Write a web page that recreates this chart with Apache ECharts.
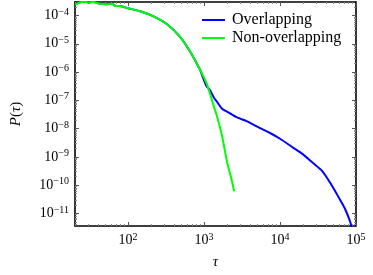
<!DOCTYPE html>
<html>
<head>
<meta charset="utf-8">
<script src="https://cdn.jsdelivr.net/npm/echarts@6/dist/echarts.min.js"></script>
<style>html,body{margin:0;padding:0;background:#fff}#c{width:373px;height:275px}</style>
</head>
<body>
<div id="c"></div>
<script>
// ---- data (tau, P(tau)) ----
const overlapTau = [20, 23.3, 25.6, 29.8, 34.6, 42.9, 51.4, 61.6, 67.4, 81, 97, 144, 213, 326, 483, 654, 886, 970, 1062, 1199, 1355, 1482, 1725, 2009, 2718, 3680, 5458, 7387, 10000, 14830, 20090, 27180, 35700, 45500, 57950, 71600, 83300, 90000];
const overlapP   = [2.4e-4, 2.9e-4, 3.09e-4, 2.9e-4, 3.0e-4, 2.58e-4, 2.52e-4, 2.58e-4, 2.2e-4, 2.12e-4, 1.84e-4, 1.41e-4, 9.46e-5, 4.9e-5, 1.76e-5, 5.37e-6, 1.2e-6, 6.35e-7, 3.4e-7, 2.28e-7, 1.21e-7, 8.8e-8, 5.06e-8, 4.0e-8, 2.48e-8, 1.81e-8, 1.04e-8, 7.0e-9, 4.37e-9, 2.14e-9, 1.23e-9, 6.05e-10, 3.2e-10, 1.24e-10, 4.1e-11, 1.47e-11, 5.3e-12, 2.5e-12];
const nonOverlapTau = [20, 23.3, 25.6, 29.8, 34.6, 42.9, 51.4, 61.6, 67.4, 81, 97, 144, 213, 326, 483, 654, 886, 1094, 1313, 1482, 1725, 2009, 2335, 2483];
const nonOverlapP   = [2.4e-4, 2.9e-4, 3.09e-4, 2.9e-4, 3.0e-4, 2.58e-4, 2.52e-4, 2.58e-4, 2.2e-4, 2.12e-4, 1.84e-4, 1.41e-4, 9.46e-5, 4.9e-5, 1.76e-5, 5.37e-6, 1.2e-6, 3.66e-7, 7.5e-8, 2.69e-8, 5.5e-9, 6.6e-10, 1.35e-10, 6.1e-11];
const seriesNames = ['Overlapping', 'Non-overlapping'];

// ---- axes ----
const xRange = [20, 1e5];
const yRange = [3.6e-12, 3.0e-4];
const xMajorTicks = [1e2, 1e3, 1e4, 1e5];
const yMajorTicks = [1e-11, 1e-10, 1e-9, 1e-8, 1e-7, 1e-6, 1e-5, 1e-4];

function minorTicks(lo, hi) {
  const out = [];
  for (let e = Math.floor(Math.log10(lo)); e <= Math.ceil(Math.log10(hi)); e++) {
    for (let m = 2; m <= 9; m++) {
      const v = m * Math.pow(10, e);
      if (v >= lo * 0.999 && v <= hi * 1.001) out.push(v);
    }
  }
  return out;
}
const xMinorTicks = minorTicks(xRange[0], xRange[1]);
const yMinorTicks = minorTicks(yRange[0], yRange[1]);

const FONT = '"Liberation Serif", "DejaVu Serif", serif';
function powLabel(v) {
  const e = Math.round(Math.log10(v));
  return '{b|10}{s|' + (e < 0 ? '\u2212' + (-e) : e) + '}';
}
const rich = {
  b: { fontFamily: FONT, fontSize: 14, color: '#000' },
  s: { fontFamily: FONT, fontSize: 10, color: '#000', padding: [0, 0, 7, 0] }
};

function mkAxis(pos, range, ticks, len, showLabel, showLine, extra) {
  const a = {
    type: 'log', logBase: 10, position: pos, min: range[0], max: range[1],
    axisLine: { show: showLine, onZero: false, lineStyle: { color: '#000', width: 1.6 } },
    axisTick: { show: true, inside: true, length: len, customValues: ticks, lineStyle: { color: len > 3 ? '#555' : '#888', width: 1 } },
    axisLabel: { show: showLabel, customValues: ticks, formatter: powLabel, rich: rich, margin: 6 },
    splitLine: { show: false },
    minorTick: { show: false }
  };
  return Object.assign(a, extra || {});
}

const chart = echarts.init(document.getElementById('c'), null, { renderer: 'canvas' });
chart.setOption({
  animation: false,
  backgroundColor: '#fff',
  grid: { left: 75, right: 17, top: 2, bottom: 42, containLabel: false },
  legend: {
    orient: 'vertical', left: 202, top: 12, padding: 0, itemWidth: 23, itemHeight: 2, itemGap: 2,
    icon: 'rect',
    data: seriesNames.map(n => ({ name: n, icon: 'rect' })),
    textStyle: { fontFamily: FONT, fontSize: 16, color: '#000', padding: [0, 0, 0, 2], lineHeight: 16 }
  },
  xAxis: [
    mkAxis('bottom', xRange, xMajorTicks, 4, true, true, {
      name: '\u03c4', nameLocation: 'middle', nameGap: 29,
      nameTextStyle: { fontFamily: FONT, fontStyle: 'italic', fontSize: 15, color: '#000' }
    }),
    mkAxis('bottom', xRange, xMinorTicks, 2, false, false),
    mkAxis('top', xRange, xMajorTicks, 4, false, true),
    mkAxis('top', xRange, xMinorTicks, 2, false, false)
  ],
  yAxis: [
    mkAxis('left', yRange, yMajorTicks, 4, true, true, {
      name: '{i|P}{n|(}{i|\u03c4}{n|)}', nameLocation: 'middle', nameGap: 51, nameRotate: 90,
      nameTextStyle: { fontFamily: FONT, fontSize: 15, color: '#000',
        rich: { i: { fontFamily: FONT, fontStyle: 'italic', fontSize: 15, color: '#000' },
                n: { fontFamily: FONT, fontSize: 15, color: '#000' } } }
    }),
    mkAxis('left', yRange, yMinorTicks, 2, false, false),
    mkAxis('right', yRange, yMajorTicks, 4, false, true),
    mkAxis('right', yRange, yMinorTicks, 2, false, false)
  ],
  series: [
    { name: seriesNames[0], type: 'line', xAxisIndex: 0, yAxisIndex: 0, showSymbol: false, symbol: 'none', smooth: 0.25,
      lineStyle: { color: '#0000ff', width: 2 }, itemStyle: { color: '#0000ff' }, clip: true, z: 2,
      data: overlapTau.map((t, i) => [t, overlapP[i]]) },
    { name: seriesNames[1], type: 'line', xAxisIndex: 0, yAxisIndex: 0, showSymbol: false, symbol: 'none', smooth: 0.25,
      lineStyle: { color: '#00ff00', width: 2 }, itemStyle: { color: '#00ff00' }, clip: true, z: 3,
      data: nonOverlapTau.map((t, i) => [t, nonOverlapP[i]]) }
  ]
});
</script>
</body>
</html>
